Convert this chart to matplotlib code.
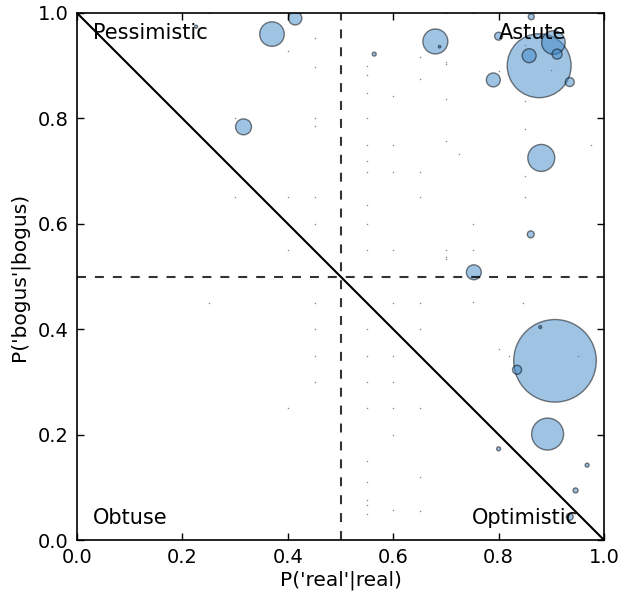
import matplotlib
matplotlib.use("Agg")
import matplotlib.pyplot as plt

# bubble data: P('real'|real), P('bogus'|bogus), marker area
x_vals = [0.370, 0.414, 0.316, 0.877, 0.680, 0.688, 0.564, 0.862, 0.800, 0.904,
          0.858, 0.911, 0.790, 0.935, 0.881, 0.861, 0.753, 0.907, 0.835, 0.879,
          0.893, 0.800, 0.968, 0.946, 0.935, 0.226]
y_vals = [0.960, 0.990, 0.784, 0.900, 0.946, 0.936, 0.922, 0.993, 0.956, 0.944,
          0.919, 0.922, 0.873, 0.869, 0.725, 0.580, 0.508, 0.340, 0.323, 0.404,
          0.201, 0.173, 0.142, 0.094, 0.044, 0.974]
sizes = [313, 93, 132, 2120, 323, 3, 8, 19, 33, 288,
         101, 52, 101, 42, 377, 25, 116, 3535, 42, 4,
         530, 8, 8, 13, 25, 5]

# tiny points
tiny_x = [0.452, 0.452, 0.452, 0.400, 0.300, 0.452, 0.300, 0.400, 0.452, 0.452, 0.400,
          0.251, 0.452, 0.452, 0.452, 0.452, 0.400, 0.250,
          0.55, 0.55, 0.651, 0.70, 0.70, 0.651, 0.55, 0.60, 0.70, 0.85, 0.85, 0.90, 0.80,
          0.55, 0.85, 0.55, 0.60, 0.70, 0.55, 0.55, 0.60, 0.651, 0.85, 0.651, 0.85, 0.55,
          0.55, 0.751, 0.55, 0.60, 0.70, 0.751, 0.70, 0.70, 0.725, 0.976,
          0.60, 0.651, 0.751, 0.847, 0.55, 0.651, 0.80, 0.819, 0.951, 0.55, 0.60,
          0.55, 0.60, 0.55, 0.60, 0.651, 0.60, 0.55, 0.55, 0.651, 0.55, 0.55, 0.60, 0.651, 0.55,
          0.70, 0.751]
tiny_y = [0.952, 0.897, 0.786, 0.928, 0.800, 0.800, 0.650, 0.650, 0.650, 0.600, 0.550,
          0.449, 0.449, 0.400, 0.349, 0.300, 0.250, 1.0,
          0.90, 0.882, 0.916, 0.907, 0.903, 0.874, 0.849, 0.843, 0.837, 0.939, 0.833, 0.892, 0.889,
          0.80, 0.78, 0.75, 0.75, 0.757, 0.719, 0.699, 0.699, 0.699, 0.691, 0.65, 0.65, 0.636,
          0.60, 0.60, 0.55, 0.55, 0.55, 0.55, 0.537, 0.533, 0.732, 0.749,
          0.449, 0.449, 0.452, 0.449, 0.40, 0.40, 0.362, 0.349, 0.349, 0.349, 0.349,
          0.30, 0.30, 0.25, 0.25, 0.25, 0.199, 0.149, 0.111, 0.119, 0.076, 0.066, 0.057, 0.055, 0.049,
          1.0, 1.0]

x_ticks = [0.0, 0.2, 0.4, 0.6, 0.8, 1.0]
y_ticks = [0.0, 0.2, 0.4, 0.6, 0.8, 1.0]

fig = plt.figure(figsize=(6.22, 5.99), dpi=100)
ax = fig.add_axes([77/622, 1-540/599, 527/622, 527/599])

ax.scatter(tiny_x, tiny_y, s=0.6, c='#4189c9', edgecolors='k', linewidths=0.3, alpha=0.45, zorder=1)
ax.scatter(x_vals, y_vals, s=sizes, c='#4189c9', edgecolors='k', linewidths=1.0, alpha=0.5, zorder=1)

ax.plot([0, 1], [1, 0], color='k', lw=1.5, zorder=2)
ax.axvline(0.5, color='k', lw=1.5, ls=(0, (4.3, 4.3)), zorder=2, alpha=0.8)
ax.axhline(0.5, color='k', lw=1.5, ls=(0, (4.3, 4.3)), zorder=2, alpha=0.8)

fs = 15
ax.text(0.03, 0.962, 'Pessimistic', fontsize=fs, ha='left', va='center')
ax.text(0.80, 0.962, 'Astute', fontsize=fs, ha='left', va='center')
ax.text(0.03, 0.042, 'Obtuse', fontsize=fs, ha='left', va='center')
ax.text(0.75, 0.042, 'Optimistic', fontsize=fs, ha='left', va='center')

ax.set_xlim(0, 1)
ax.set_ylim(0, 1)
ax.set_xticks(x_ticks)
ax.set_yticks(y_ticks)
ax.set_xticklabels([f'{t:.1f}' for t in x_ticks])
ax.set_yticklabels([f'{t:.1f}' for t in y_ticks])
ax.tick_params(direction='in', top=True, right=True, length=5, width=1, labelsize=14, pad=6)
for sp in ax.spines.values():
    sp.set_linewidth(1.2)
ax.set_xlabel("P('real'|real)", fontsize=14.5, labelpad=2)
ax.set_ylabel("P('bogus'|bogus)", fontsize=14.5, labelpad=6)

fig.savefig('out.png', dpi=100, facecolor='white')
